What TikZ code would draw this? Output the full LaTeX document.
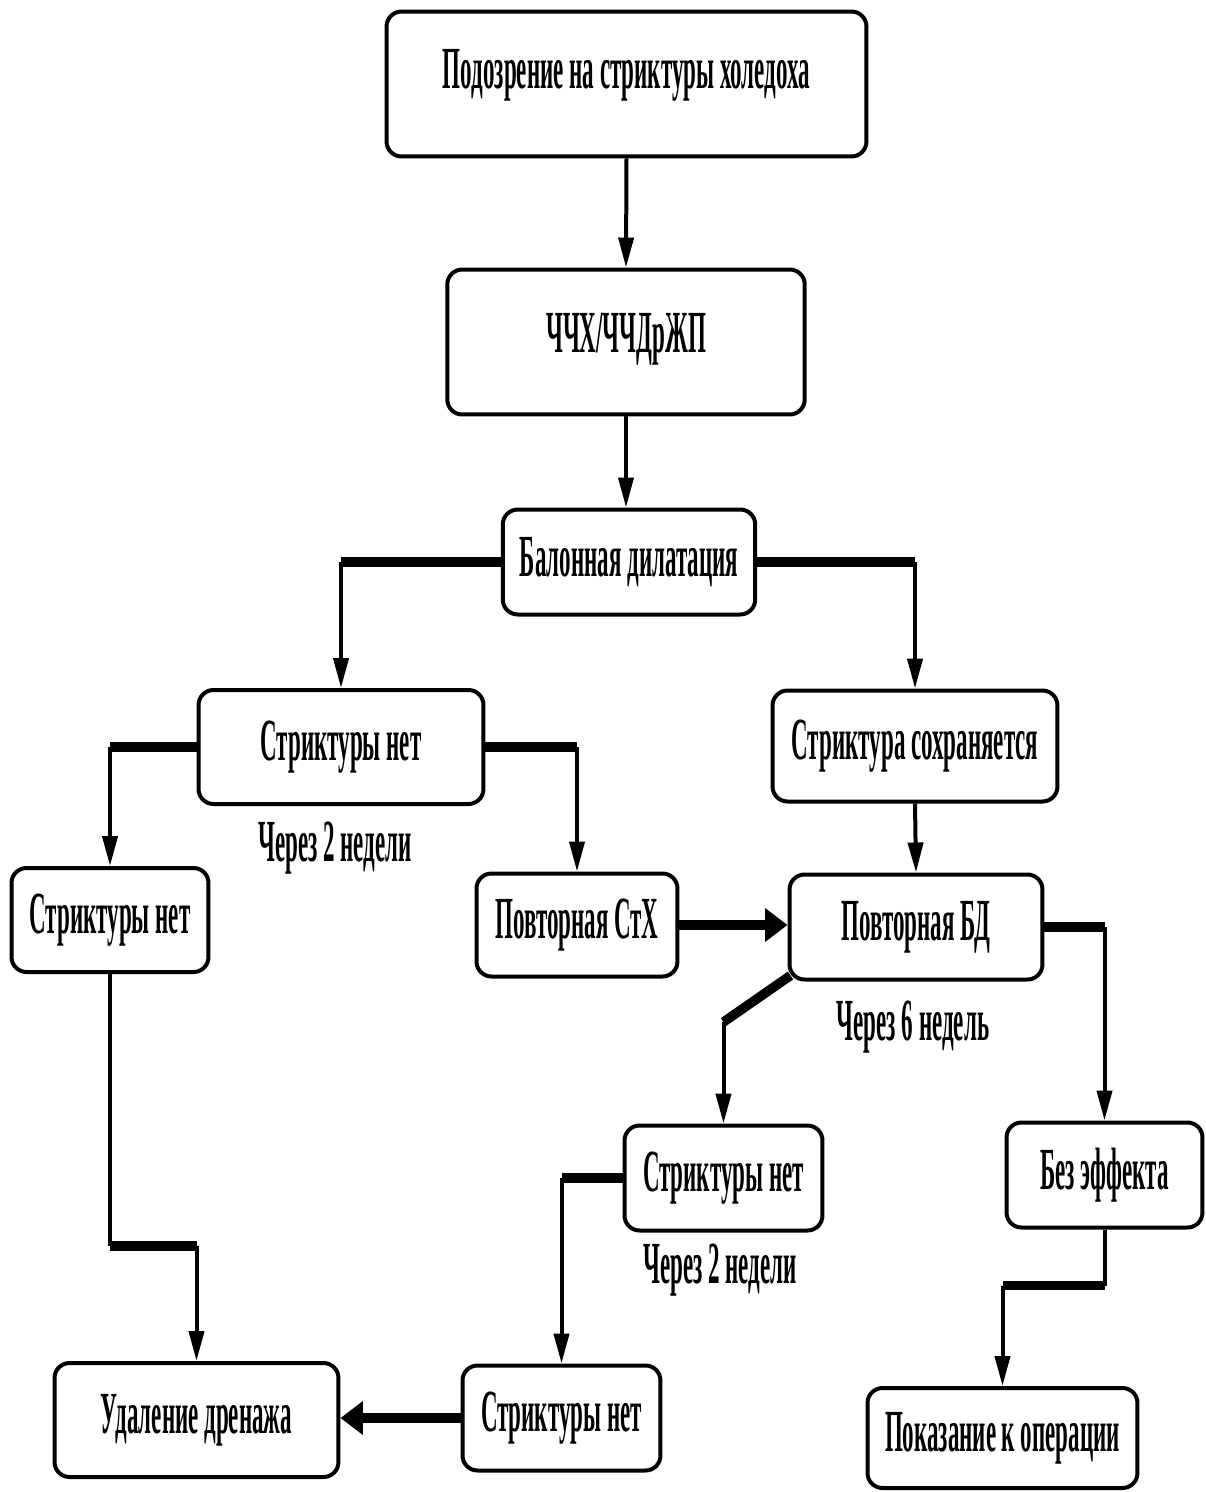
\documentclass[tikz,border=0pt]{standalone}
\usepackage{fontspec}
\newfontfamily\boxfont[FakeStretch=0.385]{Liberation Serif Bold}
\usetikzlibrary{arrows.meta}

\begin{document}
\begin{tikzpicture}[x=0.02cm,y=-0.02cm,font=\boxfont\fontsize{34pt}{38pt}\selectfont]
			\tikzset{box/.style={draw,line width=0.08cm,rounded corners=0.3cm,align=center,inner sep=0pt},
				thin/.style={line width=0.08cm},
				thk/.style={line width=0.19cm},
				arr/.style={thin,-{Triangle[length=0.6cm,width=0.3cm]}},
				harr/.style={thk,-{Triangle[length=0.45cm,width=0.65cm]}},
				note/.style={inner sep=0pt}}
			\useasboundingbox (0,0) rectangle (1206,1492);
			\node[box,minimum width=9.6cm,minimum height=2.9cm] (susp) at (626.5,84) {\raisebox{0.6cm}{Подозрение на стриктуры холедоха}};
			\node[box,minimum width=7.15cm,minimum height=2.9cm] (chh) at (626,342) {\raisebox{0.36cm}{ЧЧХ/ЧЧДрЖП}};
			\node[box,minimum width=5.05cm,minimum height=2.1cm] (bal) at (629,562) {\raisebox{-0.3cm}{Балонная дилатация}};
			\node[box,minimum width=5.7cm,minimum height=2.28cm] (nl1) at (341,747) {\raisebox{-0.15cm}{Стриктуры нет}};
			\node[box,minimum width=5.7cm,minimum height=2.22cm] (keep) at (915,746) {Стриктура сохраняется};
			\node[box,minimum width=3.94cm,minimum height=2.08cm] (nl2) at (110,920) {Стриктуры нет};
			\node[box,minimum width=4.02cm,minimum height=2.06cm] (stx) at (577,925) {Повторная СтХ};
			\node[box,minimum width=5.06cm,minimum height=2.1cm] (bd) at (916,927) {Повторная БД};
			\node[box,minimum width=3.96cm,minimum height=2.1cm] (nl3) at (723.5,1178) {Стриктуры нет};
			\node[box,minimum width=3.92cm,minimum height=2.1cm] (noeff) at (1104.5,1175) {Без эффекта};
			\node[box,minimum width=5.68cm,minimum height=2.28cm] (drain) at (196.5,1420) {Удаление дренажа};
			\node[box,minimum width=3.96cm,minimum height=2.1cm] (nl4) at (561.5,1418) {Стриктуры нет};
			\node[box,minimum width=5.4cm,minimum height=2.0cm] (oper) at (1002.5,1438) {Показание к операции};
			\node[note] (w1) at (335,848) {Через 2 недели};
			\node[note] (w2) at (913,1027) {Через 6 недель};
			\node[note] (w3) at (720,1270) {Через 2 недели};
			\draw[arr] (susp.south) -- (chh.north);
			\draw[arr] (chh.south) -- (chh.south |- bal.north);
			\foreach \a/\s/\b in {bal/west/nl1,bal/east/keep,nl1/west/nl2,nl1/east/stx,bd/east/noeff,nl3/west/nl4}{
				\draw[thk] (\a.\s) -- (\a.\s -| \b.north);
				\draw[arr] (\a.\s -| \b.north) -- (\b.north);}
			\draw[arr] (keep.south) -- (bd.north);
			\draw[harr] (stx.east) -- (stx.east -| bd.west);
			\draw[harr] (nl4.west) -- (nl4.west -| drain.east);
			\coordinate (k1) at (723.5,1022);
			\draw[thk] ([shift={(3,-6)}]bd.south west) -- (k1);
			\draw[arr] (k1) -- (nl3.north);
			\draw[thin] (nl2.south) -- ++(0,272) coordinate (k2);
			\draw[thk] (k2) -- (k2 -| drain.north) coordinate (k3);
			\draw[arr] (k3) -- (drain.north);
			\draw[thin] (noeff.south) -- ++(0,56) coordinate (k4);
			\draw[thk] (k4) -- (k4 -| oper.north) coordinate (k5);
			\draw[arr] (k5) -- (oper.north);
		\end{tikzpicture}
\end{document}
